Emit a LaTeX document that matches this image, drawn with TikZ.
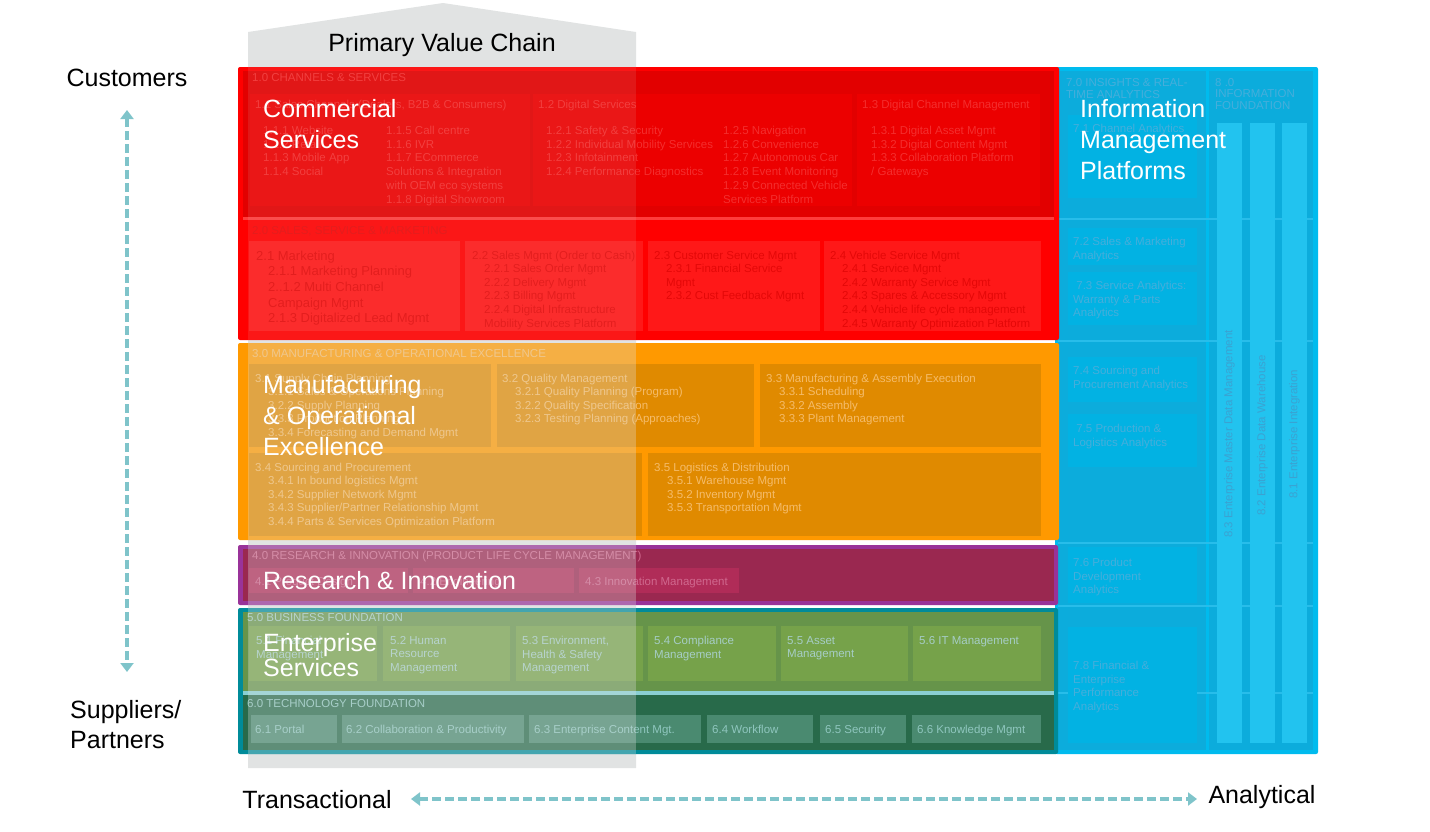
\documentclass[tikz,border=0pt]{standalone}
\usepackage{fontspec}
\setmainfont{Liberation Sans}
\usetikzlibrary{arrows.meta}

\definecolor{pvcgrey}{HTML}{E1E3E3}
\definecolor{axisteal}{HTML}{7FC4CA}
\definecolor{redout}{HTML}{FF0000}
\definecolor{redpanel}{HTML}{E20000}
\definecolor{redbox}{HTML}{EC0000}
\definecolor{redline}{HTML}{FF3C3C}
\definecolor{redboxb}{HTML}{FF1818}
\definecolor{redtxta}{HTML}{F42E2E}
\definecolor{redtxtb}{HTML}{E40808}
\definecolor{orangeout}{HTML}{FF9900}
\definecolor{orangebox}{HTML}{E08A00}
\definecolor{orangetxt}{HTML}{F5BC6A}
\definecolor{purpleout}{HTML}{993399}
\definecolor{purplepanel}{HTML}{9A2850}
\definecolor{purplebox}{HTML}{B02C58}
\definecolor{purpletxt}{HTML}{D0688E}
\definecolor{tealout}{HTML}{008B99}
\definecolor{greenpanel}{HTML}{66944A}
\definecolor{greenbox}{HTML}{76A24A}
\definecolor{greentxt}{HTML}{A6CDC6}
\definecolor{tealline}{HTML}{8ACFD3}
\definecolor{darkgreen}{HTML}{286A4A}
\definecolor{dgbox}{HTML}{4A8A70}
\definecolor{dgtxt}{HTML}{8FC6BE}
\definecolor{blueout}{HTML}{00BBEE}
\definecolor{bluepanel}{HTML}{0CACDC}
\definecolor{bluebox}{HTML}{02B2E3}
\definecolor{bluebar}{HTML}{22C3EF}
\definecolor{blueline}{HTML}{28BDEA}
\definecolor{bluetxt}{HTML}{46AEDB}
\definecolor{bartxt}{HTML}{3AA2D2}

\tikzset{
  small/.style={anchor=north west, inner sep=0pt, align=left, font=\fontsize{11.5}{13.7}\selectfont},
  big/.style={anchor=north west, inner sep=0pt, align=left, text=white, font=\fontsize{25}{31}\selectfont},
  outer/.style={inner sep=0pt, align=left, font=\fontsize{25}{30}\selectfont},
  bartext/.style={rotate=90, anchor=west, inner sep=0pt, text=bartxt, font=\fontsize{11.5}{13.7}\selectfont},
  axisarrow/.style={draw=axisteal, line width=4pt, dash pattern=on 9pt off 4pt,
    {Triangle[width=13pt,length=9pt]}-{Triangle[width=13pt,length=9pt]}},
}

\begin{document}
\begin{tikzpicture}[x=1pt,y=-1pt]
\useasboundingbox (0,0) rectangle (1430,831);

\fill[pvcgrey] (248,32) -- (443,3) -- (636,32) -- (636,768) -- (248,768) -- cycle;

\fill[blueout, rounded corners=2pt] (1055,67) rectangle (1318,754);
\fill[bluepanel] (1058,71) rectangle (1206,750);
\fill[bluepanel] (1209,71) rectangle (1313,750);
\foreach \y in {219,341,543,606,693}
  \draw[blueline, line width=1.5pt] (1058,\y) -- (1313,\y);
\foreach \ya/\yb in {115/198,228/265,272/325,357/402,414/467,547/603,627/743}
  \fill[bluebox] (1068,\ya) rectangle (1197,\yb);
\foreach \xa in {1217,1250,1282}
  \fill[bluebar] (\xa,123) rectangle (\xa+25,743);

\fill[redout, rounded corners=2pt] (238,67) rectangle (1059,340);
\fill[redpanel] (243,71) rectangle (1054,217);
\fill[redline] (243,217) rectangle (1054,220);
\foreach \xa/\xb in {250/530,533/852,857/1040}
  \fill[redbox] (\xa,94) rectangle (\xb,206);
\foreach \xa/\xb in {249/460,465/643,648/820,824/1041}
  \fill[redboxb] (\xa,241) rectangle (\xb,331);

\fill[orangeout, rounded corners=2pt] (238,343) rectangle (1059,540);
\foreach \xa/\ya/\xb/\yb in {249/364/491/447,497/364/754/447,760/364/1041/447,249/453/642/536,648/453/1041/536}
  \fill[orangebox] (\xa,\ya) rectangle (\xb,\yb);

\fill[purpleout, rounded corners=2pt] (238,545) rectangle (1058,605);
\fill[purplepanel] (243,549) rectangle (1054,601);
\foreach \xa/\xb in {249/408,413/574,579/739}
  \fill[purplebox] (\xa,568) rectangle (\xb,593);

\fill[tealout, rounded corners=2pt] (238,608) rectangle (1058,754);
\fill[greenpanel] (243,612) rectangle (1054,691);
\fill[tealline] (243,691) rectangle (1054,695);
\fill[darkgreen] (243,695) rectangle (1054,750);
\foreach \xa/\xb in {249/377,383/510,516/643,648/776,781/908,913/1041}
  \fill[greenbox] (\xa,626) rectangle (\xb,681);
\foreach \xa/\xb in {251/337,342/524,529/701,707/813,820/906,912/1041}
  \fill[dgbox] (\xa,715) rectangle (\xb,743);

% channels and services
\node[small, text=redtxta] (h10) at (252,73) {1.0 CHANNELS  \& SERVICES};
\node[small, text=redtxta] (t11) at (255,100) {1.1 Sales Channels (Dealers, B2B \& Consumers)};
\node[small, text=redtxta] (t11a) at (263,126) {1.1.1 Website\\1.1.2 Retail\\1.1.3  Mobile App\\1.1.4 Social};
\node[small, text=redtxta] (t11b) at (386,126) {1.1.5 Call centre\\1.1.6 IVR\\1.1.7 ECommerce\\Solutions \& Integration\\with  OEM  eco systems\\1.1.8 Digital  Showroom};
\node[small, text=redtxta] (t12) at (538,100) {1.2 Digital Services};
\node[small, text=redtxta] (t12a) at (546,126) {1.2.1 Safety \& Security\\1.2.2 Individual Mobility Services\\1.2.3  Infotainment\\1.2.4 Performance Diagnostics};
\node[small, text=redtxta] (t12b) at (723,126) {1.2.5 Navigation\\1.2.6 Convenience\\1.2.7 Autonomous Car\\1.2.8 Event Monitoring\\1.2.9 Connected Vehicle\\Services Platform};
\node[small, text=redtxta] (t13) at (862,100) {1.3 Digital Channel Management};
\node[small, text=redtxta] (t13a) at (871,126) {1.3.1 Digital Asset Mgmt\\1.3.2 Digital Content Mgmt\\1.3.3 Collaboration  Platform\\/ Gateways};

% sales, service and marketing
\node[small, text=redtxtb] (h20) at (252,226) {2.0 SALES, SERVICE  \& MARKETING};
\node[small, text=redtxtb, font=\fontsize{13}{15.7}\selectfont] (t21) at (256,251) {2.1 Marketing};
\node[small, text=redtxtb, font=\fontsize{13}{15.7}\selectfont] (t21a) at (268,266) {2.1.1 Marketing  Planning\\2..1.2  Multi  Channel\\Campaign Mgmt\\2.1.3  Digitalized Lead Mgmt};
\node[small, text=redtxtb] (t22) at (472,251) {2.2 Sales Mgmt  (Order to Cash)};
\node[small, text=redtxtb] (t22a) at (484,264) {2.2.1 Sales Order Mgmt\\2.2.2 Delivery Mgmt\\2.2.3 Billing Mgmt\\2.2.4 Digital Infrastructure\\Mobility Services Platform};
\node[small, text=redtxtb] (t23) at (654,251) {2.3 Customer Service Mgmt};
\node[small, text=redtxtb] (t23a) at (666,264) {2.3.1 Financial Service\\Mgmt\\2.3.2 Cust Feedback Mgmt};
\node[small, text=redtxtb] (t24) at (830,251) {2.4 Vehicle Service Mgmt};
\node[small, text=redtxtb] (t24a) at (842,264) {2.4.1 Service Mgmt\\2.4.2 Warranty Service Mgmt\\2.4.3 Spares \& Accessory Mgmt\\2.4.4 Vehicle life cycle management\\2.4.5 Warranty Optimization  Platform};

% manufacturing
\node[small, text=orangetxt] (h30) at (252,349) {3.0 MANUFACTURING  \& OPERATIONAL  EXCELLENCE};
\node[small, text=orangetxt] (t31) at (255,374) {3.1 Supply Chain Planning};
\node[small, text=orangetxt] (t31a) at (268,387) {3.1.1 Sales \& Operations Planning\\3.2.2  Supply Planning\\3.3.3  Production Planning\\3.3.4  Forecasting and Demand Mgmt};
\node[small, text=orangetxt] (t32) at (502,374) {3.2 Quality Management};
\node[small, text=orangetxt] (t32a) at (515,387) {3.2.1 Quality Planning (Program)\\3.2.2 Quality Specification\\3.2.3 Testing Planning (Approaches)};
\node[small, text=orangetxt] (t33) at (766,374) {3.3 Manufacturing \& Assembly Execution};
\node[small, text=orangetxt] (t33a) at (779,387) {3.3.1 Scheduling\\3.3.2 Assembly\\3.3.3 Plant Management};
\node[small, text=orangetxt] (t34) at (255,463) {3.4 Sourcing and Procurement};
\node[small, text=orangetxt] (t34a) at (268,476) {3.4.1 In  bound logistics Mgmt\\3.4.2 Supplier Network  Mgmt\\3.4.3 Supplier/Partner Relationship Mgmt\\3.4.4 Parts \& Services Optimization  Platform};
\node[small, text=orangetxt] (t35) at (654,463) {3.5 Logistics \& Distribution};
\node[small, text=orangetxt] (t35a) at (667,476) {3.5.1 Warehouse Mgmt\\3.5.2 Inventory Mgmt\\3.5.3 Transportation Mgmt};

% research
\node[small, text=purpletxt] (h40) at (252,551) {4.0 RESEARCH  \& INNOVATION  (PRODUCT LIFE  CYCLE MANAGEMENT)};
\node[small, text=purpletxt] (t41) at (255,577) {4.1 Product Design};
\node[small, text=purpletxt] (t42) at (420,577) {4.2 Engineering};
\node[small, text=purpletxt] (t43) at (585,577) {4.3 Innovation Management};

% business and technology foundation
\node[small, text=greentxt] (h50) at (247,613) {5.0 BUSINESS  FOUNDATION};
\node[small, text=greentxt] (t51) at (256,636) {5.1 Financial\\Management};
\node[small, text=greentxt] (t52) at (390,636) {5.2  Human\\Resource\\Management};
\node[small, text=greentxt] (t53) at (522,636) {5.3 Environment,\\Health \& Safety\\Management};
\node[small, text=greentxt] (t54) at (654,636) {5.4  Compliance\\Management};
\node[small, text=greentxt] (t55) at (787,636) {5.5  Asset\\Management};
\node[small, text=greentxt] (t56) at (919,636) {5.6 IT   Management};
\node[small, text=dgtxt] (h60) at (247,699) {6.0 TECHNOLOGY  FOUNDATION};
\node[small, text=dgtxt] (t61) at (255,725) {6.1 Portal};
\node[small, text=dgtxt] (t62) at (346,725) {6.2 Collaboration \& Productivity};
\node[small, text=dgtxt] (t63) at (534,725) {6.3 Enterprise Content Mgt.};
\node[small, text=dgtxt] (t64) at (712,725) {6.4 Workflow};
\node[small, text=dgtxt] (t65) at (825,725) {6.5 Security};
\node[small, text=dgtxt] (t66) at (917,725) {6.6 Knowledge Mgmt};

% analytics and information foundation
\node[small, text=bluetxt, font=\fontsize{11.5}{12.5}\selectfont] (h70) at (1066,78) {7.0 INSIGHTS  \& REAL-\\TIME  ANALYTICS};
\node[small, text=bluetxt, font=\fontsize{11.5}{11.5}\selectfont] (h80) at (1215,78) {8  .0\\INFORMATION\\FOUNDATION};
\node[small, text=bluetxt] (t71) at (1073,124) {7.1 Channel Analytics};
\node[small, text=bluetxt] (t72) at (1073,237) {7.2  Sales \& Marketing\\Analytics};
\node[small, text=bluetxt] (t73) at (1073,281) {\ 7.3  Service Analytics:\\Warranty \& Parts\\Analytics};
\node[small, text=bluetxt] (t74) at (1073,366) {7.4  Sourcing and\\Procurement Analytics};
\node[small, text=bluetxt] (t75) at (1073,424) {\ 7.5 Production \&\\Logistics Analytics};
\node[small, text=bluetxt] (t76) at (1073,558) {7.6 Product\\Development\\Analytics};
\node[small, text=bluetxt] (t78) at (1073,661) {7.8 Financial \&\\Enterprise\\Performance\\Analytics};
\node[bartext] (t83) at (1229.5,538) {8.3 Enterprise Master Data Management};
\node[bartext] (t82) at (1262.5,516) {8.2 Enterprise Data Warehouse};
\node[bartext] (t81) at (1294.5,499) {8.1 Enterprise Integration};

\fill[pvcgrey, opacity=0.1] (248,67) rectangle (636,340);
\fill[pvcgrey, opacity=0.3] (248,340) rectangle (636,754);

\node[big] (cs) at (263,99) {Commercial\\Services};
\node[big] (moe) at (263,375) {Manufacturing\\\& Operational\\Excellence};
\node[big] (ri) at (263,571) {Research \& Innovation};
\node[big, font=\fontsize{25}{25}\selectfont] (es) at (263,633) {Enterprise\\Services};
\node[big] (imp) at (1080,99) {Information\\Management\\Platforms};

\node[outer] (pvc) at (442,45) {Primary Value Chain};
\node[outer] (cust) at (127,78) {Customers};
\node[outer, anchor=north west] (supp) at (70,700) {Suppliers/\\Partners};
\node[outer] (trans) at (317,800) {Transactional};
\node[outer] (anal) at (1262,797) {Analytical};

\coordinate (vtop) at (127,110);
\coordinate (vbot) at (127,672);
\coordinate (hleft) at (411,799);
\coordinate (hright) at (1197,799);
\draw[axisarrow] (vtop) -- (vbot);
\draw[axisarrow] (hleft) -- (hright);
\end{tikzpicture}
\end{document}
